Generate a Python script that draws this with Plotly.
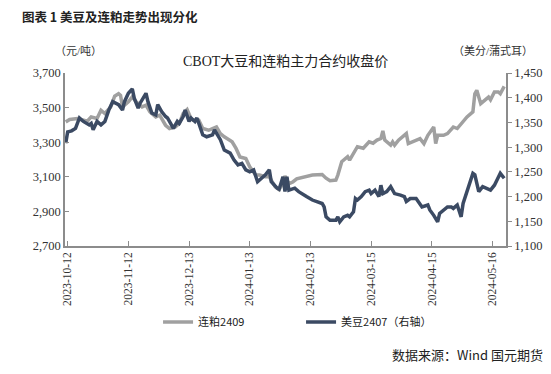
import plotly.graph_objects as go

# 连粕2409 (left axis, 元/吨)
meal_dates = [
    "2023-10-11", "2023-10-13", "2023-10-17", "2023-10-20", "2023-10-22", "2023-10-24",
    "2023-10-27", "2023-10-29", "2023-10-31", "2023-11-03", "2023-11-05", "2023-11-07",
    "2023-11-08", "2023-11-09", "2023-11-12", "2023-11-14", "2023-11-16", "2023-11-19",
    "2023-11-21", "2023-11-23", "2023-11-26", "2023-11-28", "2023-12-01", "2023-12-03",
    "2023-12-06", "2023-12-08", "2023-12-10", "2023-12-12", "2023-12-14", "2023-12-15",
    "2023-12-18", "2023-12-20", "2023-12-23", "2023-12-25", "2023-12-27", "2023-12-29",
    "2023-12-31", "2024-01-04", "2024-01-06", "2024-01-08", "2024-01-11", "2024-01-13",
    "2024-01-16", "2024-01-18", "2024-01-21", "2024-01-23", "2024-01-26", "2024-01-28",
    "2024-01-30", "2024-01-31", "2024-02-02", "2024-02-04", "2024-02-06", "2024-02-14",
    "2024-02-19", "2024-02-21", "2024-02-23", "2024-02-26", "2024-02-27", "2024-02-29",
    "2024-03-03", "2024-03-04", "2024-03-07", "2024-03-08", "2024-03-11", "2024-03-14",
    "2024-03-16", "2024-03-18", "2024-03-20", "2024-03-21", "2024-03-22", "2024-03-25",
    "2024-03-26", "2024-03-27", "2024-03-29", "2024-04-02", "2024-04-03", "2024-04-05",
    "2024-04-09", "2024-04-11", "2024-04-13", "2024-04-16", "2024-04-17", "2024-04-18",
    "2024-04-21", "2024-04-23", "2024-04-26", "2024-04-28", "2024-05-01", "2024-05-03",
    "2024-05-06", "2024-05-07", "2024-05-08", "2024-05-09", "2024-05-10", "2024-05-12",
    "2024-05-14", "2024-05-15", "2024-05-17", "2024-05-19", "2024-05-20", "2024-05-22",
]
meal_values = [
    3417, 3431, 3437, 3427, 3421, 3446,
    3437, 3485, 3466, 3504, 3566, 3581,
    3571, 3504, 3533, 3562, 3533, 3504,
    3514, 3475, 3446, 3456, 3398, 3379,
    3388, 3408, 3466, 3489, 3437, 3427,
    3427, 3379, 3369, 3379, 3388, 3350,
    3331, 3302, 3264, 3215, 3206, 3158,
    3110, 3110, 3100, 3100, 3042, 3025,
    3065, 3105, 3060, 3070, 3088, 3110,
    3113, 3092, 3077, 3081, 3110, 3187,
    3216, 3196, 3254, 3274, 3265, 3302,
    3294, 3312, 3321, 3365, 3312, 3283,
    3302, 3283, 3312, 3350, 3292, 3302,
    3321, 3292, 3340, 3388, 3292, 3340,
    3340, 3350, 3388, 3379, 3417, 3446,
    3475, 3580, 3600, 3561, 3523, 3542,
    3561, 3545, 3590, 3590, 3580, 3623,
]

# 美豆2407 (right axis, 美分/蒲式耳)
soy_dates = [
    "2023-10-11", "2023-10-12", "2023-10-14", "2023-10-16", "2023-10-18", "2023-10-20",
    "2023-10-23", "2023-10-24", "2023-10-25", "2023-10-27", "2023-10-29", "2023-10-31",
    "2023-11-02", "2023-11-04", "2023-11-07", "2023-11-09", "2023-11-10", "2023-11-12",
    "2023-11-14", "2023-11-15", "2023-11-17", "2023-11-18", "2023-11-21", "2023-11-22",
    "2023-11-24", "2023-11-26", "2023-11-27", "2023-11-29", "2023-12-01", "2023-12-02",
    "2023-12-04", "2023-12-05", "2023-12-07", "2023-12-08", "2023-12-10", "2023-12-11",
    "2023-12-13", "2023-12-14", "2023-12-16", "2023-12-17", "2023-12-18", "2023-12-20",
    "2023-12-22", "2023-12-25", "2023-12-26", "2023-12-29", "2023-12-31", "2024-01-03",
    "2024-01-05", "2024-01-07", "2024-01-09", "2024-01-11", "2024-01-13", "2024-01-15",
    "2024-01-17", "2024-01-19", "2024-01-21", "2024-01-23", "2024-01-24", "2024-01-27",
    "2024-01-28", "2024-01-30", "2024-01-31", "2024-02-01", "2024-02-02", "2024-02-05",
    "2024-02-07", "2024-02-11", "2024-02-14", "2024-02-19", "2024-02-20", "2024-02-21",
    "2024-02-23", "2024-02-26", "2024-02-27", "2024-02-28", "2024-03-01", "2024-03-03",
    "2024-03-04", "2024-03-06", "2024-03-07", "2024-03-08", "2024-03-10", "2024-03-12",
    "2024-03-14", "2024-03-15", "2024-03-17", "2024-03-19", "2024-03-20", "2024-03-21",
    "2024-03-23", "2024-03-25", "2024-03-27", "2024-03-30", "2024-04-01", "2024-04-02",
    "2024-04-04", "2024-04-07", "2024-04-08", "2024-04-10", "2024-04-13", "2024-04-14",
    "2024-04-16", "2024-04-18", "2024-04-19", "2024-04-21", "2024-04-23", "2024-04-25",
    "2024-04-26", "2024-04-28", "2024-04-30", "2024-05-01", "2024-05-04", "2024-05-06",
    "2024-05-07", "2024-05-09", "2024-05-11", "2024-05-13", "2024-05-15", "2024-05-17",
    "2024-05-19", "2024-05-20", "2024-05-22",
]
soy_values = [
    1308, 1331, 1333, 1338, 1359, 1352,
    1345, 1348, 1335, 1352, 1345, 1352,
    1375, 1392, 1386, 1375, 1392, 1409,
    1418, 1399, 1379, 1389, 1409, 1392,
    1369, 1365, 1386, 1372, 1362, 1359,
    1345, 1338, 1352, 1348, 1362, 1375,
    1352, 1359, 1352, 1359, 1348, 1325,
    1321, 1325, 1335, 1315, 1294, 1288,
    1274, 1264, 1267, 1254, 1250, 1254,
    1230, 1237, 1244, 1254, 1230, 1217,
    1215, 1240, 1210, 1240, 1213, 1217,
    1210, 1200, 1193, 1186, 1179, 1159,
    1152, 1152, 1159, 1149, 1159, 1162,
    1159, 1169, 1196, 1193, 1200, 1210,
    1213, 1206, 1213, 1200, 1223, 1206,
    1210, 1220, 1206, 1203, 1200, 1190,
    1196, 1196, 1190, 1179, 1183, 1173,
    1162, 1149, 1166, 1173, 1179, 1179,
    1176, 1183, 1159, 1186, 1220, 1247,
    1244, 1210, 1220, 1217, 1213, 1223,
    1237, 1247, 1237,
]

x_tick_vals = ["2023-10-12", "2023-11-12", "2023-12-13", "2024-01-13",
               "2024-02-13", "2024-03-15", "2024-04-15", "2024-05-16"]
left_ticks = [2700, 2900, 3100, 3300, 3500, 3700]
right_ticks = [1100, 1150, 1200, 1250, 1300, 1350, 1400, 1450]

GRAY = "#A0A0A0"
DARK = "#3B4A63"
AXIS = "#8C8C8C"
SERIF = "Liberation Serif, Times New Roman, Noto Sans CJK SC, serif"
SANS = "Noto Sans CJK SC, Noto Sans, sans-serif"

fig = go.Figure()
fig.add_trace(go.Scatter(x=meal_dates, y=meal_values, mode="lines", name="连粕2409",
                         line=dict(color=GRAY, width=3.5), yaxis="y"))
fig.add_trace(go.Scatter(x=soy_dates, y=soy_values, mode="lines", name="美豆2407（右轴）",
                         line=dict(color=DARK, width=3.5), yaxis="y2"))

# the page body adds an 8px margin, so the figure is 8px smaller than the window
fig.update_layout(
    width=543, height=366,
    margin=dict(l=57, r=45, t=65, b=128, autoexpand=False),
    paper_bgcolor="white", plot_bgcolor="white",
    showlegend=True,
    legend=dict(orientation="h", x=0.211, xanchor="left", y=-0.44, yanchor="middle",
                font=dict(family=SANS, size=11, color="#222222"),
                entrywidth=98, entrywidthmode="pixels", itemwidth=30,
                bgcolor="rgba(0,0,0,0)"),
    xaxis=dict(type="date", range=["2023-10-10 15:00", "2024-05-22 22:00"],
               tickvals=x_tick_vals, tickformat="%Y-%m-%d", tickangle=-90,
               automargin=False,
               showgrid=False, zeroline=False, showline=True, linecolor=AXIS, linewidth=1.5,
               ticks="inside", ticklen=5, tickcolor=AXIS,
               tickfont=dict(family=SERIF, size=11.5, color="#333333")),
    yaxis=dict(range=[2700, 3700], tickvals=left_ticks, tickformat=",d",
               automargin=False,
               showgrid=False, zeroline=False, showline=True, linecolor=AXIS, linewidth=1.5,
               ticks="inside", ticklen=4, tickcolor=AXIS,
               tickfont=dict(family=SERIF, size=12.5, color="#333333")),
    yaxis2=dict(range=[1100, 1450], tickvals=right_ticks, tickformat=",d",
                overlaying="y", side="right", automargin=False,
                showgrid=False, zeroline=False, showline=True, linecolor=AXIS, linewidth=1.5,
                ticks="outside", ticklen=4, tickcolor=AXIS,
                tickfont=dict(family=SERIF, size=12.5, color="#333333")),
)

fig.add_annotation(text="<b>图表 1 美豆及连粕走势出现分化</b>", xref="paper", yref="paper",
                   x=-0.103, y=1.325, xanchor="left", yanchor="middle", showarrow=False,
                   font=dict(family=SANS, size=12.5, color="#222222"))
fig.add_annotation(text="CBOT大豆和连粕主力合约收盘价", xref="paper", yref="paper",
                   x=0.5, y=1.07, xanchor="center", yanchor="middle", showarrow=False,
                   font=dict(family=SERIF, size=14, color="#222222"))
fig.add_annotation(text="（元/吨）", xref="paper", yref="paper",
                   x=0.03, y=1.13, xanchor="center", yanchor="middle", showarrow=False,
                   font=dict(family=SERIF, size=11, color="#333333"))
fig.add_annotation(text="（美分/蒲式耳）", xref="paper", yref="paper",
                   x=0.97, y=1.13, xanchor="center", yanchor="middle", showarrow=False,
                   font=dict(family=SERIF, size=11, color="#333333"))
fig.add_annotation(text="数据来源：Wind 国元期货", xref="paper", yref="paper",
                   x=1.088, y=-0.63, xanchor="right", yanchor="middle", showarrow=False,
                   font=dict(family=SANS, size=13, color="#222222"))

fig.write_html("out.html")
